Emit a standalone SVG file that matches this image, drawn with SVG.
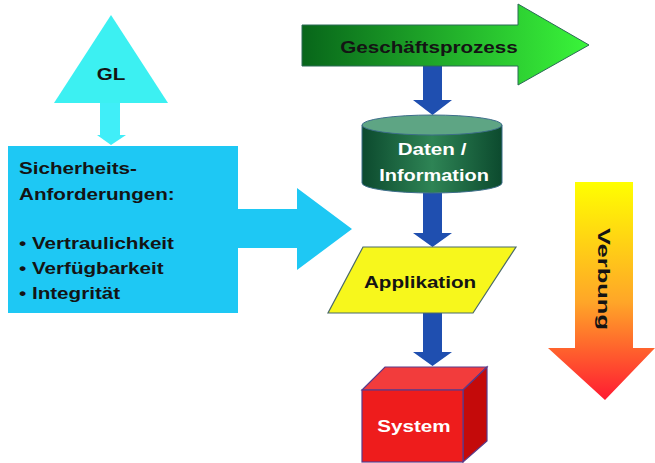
<svg xmlns="http://www.w3.org/2000/svg" width="655" height="463" viewBox="0 0 655 463">
  <style>
    .t { font-family: "Liberation Sans", Arial, sans-serif; font-weight: bold; font-size: 16.5px; }
    .dark { fill: #141414; }
    .white { fill: #ffffff; }
    .blue { fill: #1f4fb0; }
    .cyan { fill: #1ec8f4; }
  </style>
  <defs>
    <linearGradient id="gGreen" x1="0" y1="0" x2="1" y2="0">
      <stop offset="0" stop-color="#08661a"/>
      <stop offset="1" stop-color="#3af53a"/>
    </linearGradient>
    <linearGradient id="gCyl" x1="0" y1="0" x2="1" y2="0">
      <stop offset="0" stop-color="#0c4a2e"/>
      <stop offset="0.5" stop-color="#2e8455"/>
      <stop offset="1" stop-color="#0c4a2e"/>
    </linearGradient>
    <linearGradient id="gVer" x1="0" y1="0" x2="0" y2="1">
      <stop offset="0" stop-color="#ffff00"/>
      <stop offset="0.55" stop-color="#ffa628"/>
      <stop offset="1" stop-color="#ff1a32"/>
    </linearGradient>
  </defs>

  <g id="connectors">
    <polygon id="arrow-gl" points="100,103 120,103 120,135 126,135 111,145 97,135 100,135" fill="#40eef8"/>
    <polygon id="arrow-req" class="cyan" points="237,209 297,209 297,188 352,229 297,270 297,248 237,248"/>
    <polygon id="arrow-gp-daten" class="blue" points="423,63 442,63 442,100 452,100 432.5,115 413,100 423,100"/>
    <polygon id="arrow-daten-app" class="blue" points="423,193 442,193 442,233 452,233 432.5,247 413,233 423,233"/>
    <polygon id="arrow-app-sys" class="blue" points="423,313 442,313 442,352 452,352 432.5,366 413,352 423,352"/>
  </g>

  <g id="gl">
    <polygon points="111,15 54,103 168,103" fill="#3cf0f2"/>
    <text class="t dark" transform="translate(111,80) scale(1.25,1)" text-anchor="middle">GL</text>
  </g>

  <g id="anforderungen">
    <rect class="cyan" x="8" y="146" width="230" height="167"/>
    <g class="t dark">
      <text transform="translate(19,174) scale(1.25,1)">Sicherheits-</text>
      <text transform="translate(19,200) scale(1.25,1)">Anforderungen:</text>
      <text transform="translate(19,249) scale(1.25,1)">• Vertraulichkeit</text>
      <text transform="translate(19,274) scale(1.25,1)">• Verfügbarkeit</text>
      <text transform="translate(19,299) scale(1.25,1)">• Integrität</text>
    </g>
  </g>

  <g id="geschaeftsprozess">
    <polygon points="302,25 518,25 518,4 589,45 518,85 518,66 302,66" fill="url(#gGreen)" stroke="#2a6a55" stroke-width="1"/>
    <text class="t dark" transform="translate(429,53) scale(1.25,1)" text-anchor="middle">Geschäftsprozess</text>
  </g>

  <g id="daten">
    <path d="M362,125 L362,183 A70,10 0 0 0 502,183 L502,125 Z" fill="url(#gCyl)" stroke="#3d6e8a" stroke-width="1"/>
    <ellipse cx="432" cy="125" rx="70" ry="10" fill="#5ea584" stroke="#3d6e8a" stroke-width="1"/>
    <text class="t white" transform="translate(432,155) scale(1.25,1)" text-anchor="middle">Daten /</text>
    <text class="t white" transform="translate(434,181) scale(1.21,1)" text-anchor="middle">Information</text>
  </g>

  <g id="applikation">
    <polygon points="363,247 516,247 473,313 328,313" fill="#f7f71c" stroke="#4a6a6a" stroke-width="1.2"/>
    <text class="t dark" transform="translate(420,288) scale(1.25,1)" text-anchor="middle">Applikation</text>
  </g>

  <g id="system">
    <polygon points="362,390 385,367 487,367 463,390" fill="#f23c3c" stroke="#5a3a8a" stroke-width="1.2"/>
    <polygon points="463,390 487,367 487,441 463,462" fill="#c40a0a" stroke="#5a3a8a" stroke-width="1.2"/>
    <rect x="362" y="390" width="101" height="72" fill="#ee1c1c" stroke="#5a3a8a" stroke-width="1.2"/>
    <text class="t white" transform="translate(414,432) scale(1.25,1)" text-anchor="middle">System</text>
  </g>

  <g id="vererbung">
    <polygon points="575,182 633,182 633,348 655,348 605,400 548,348 575,348" fill="url(#gVer)"/>
    <text class="t dark" style="font-size:17px" transform="translate(598,279) rotate(90)" text-anchor="middle" textLength="102" lengthAdjust="spacingAndGlyphs">Verbung</text>
  </g>
</svg>
